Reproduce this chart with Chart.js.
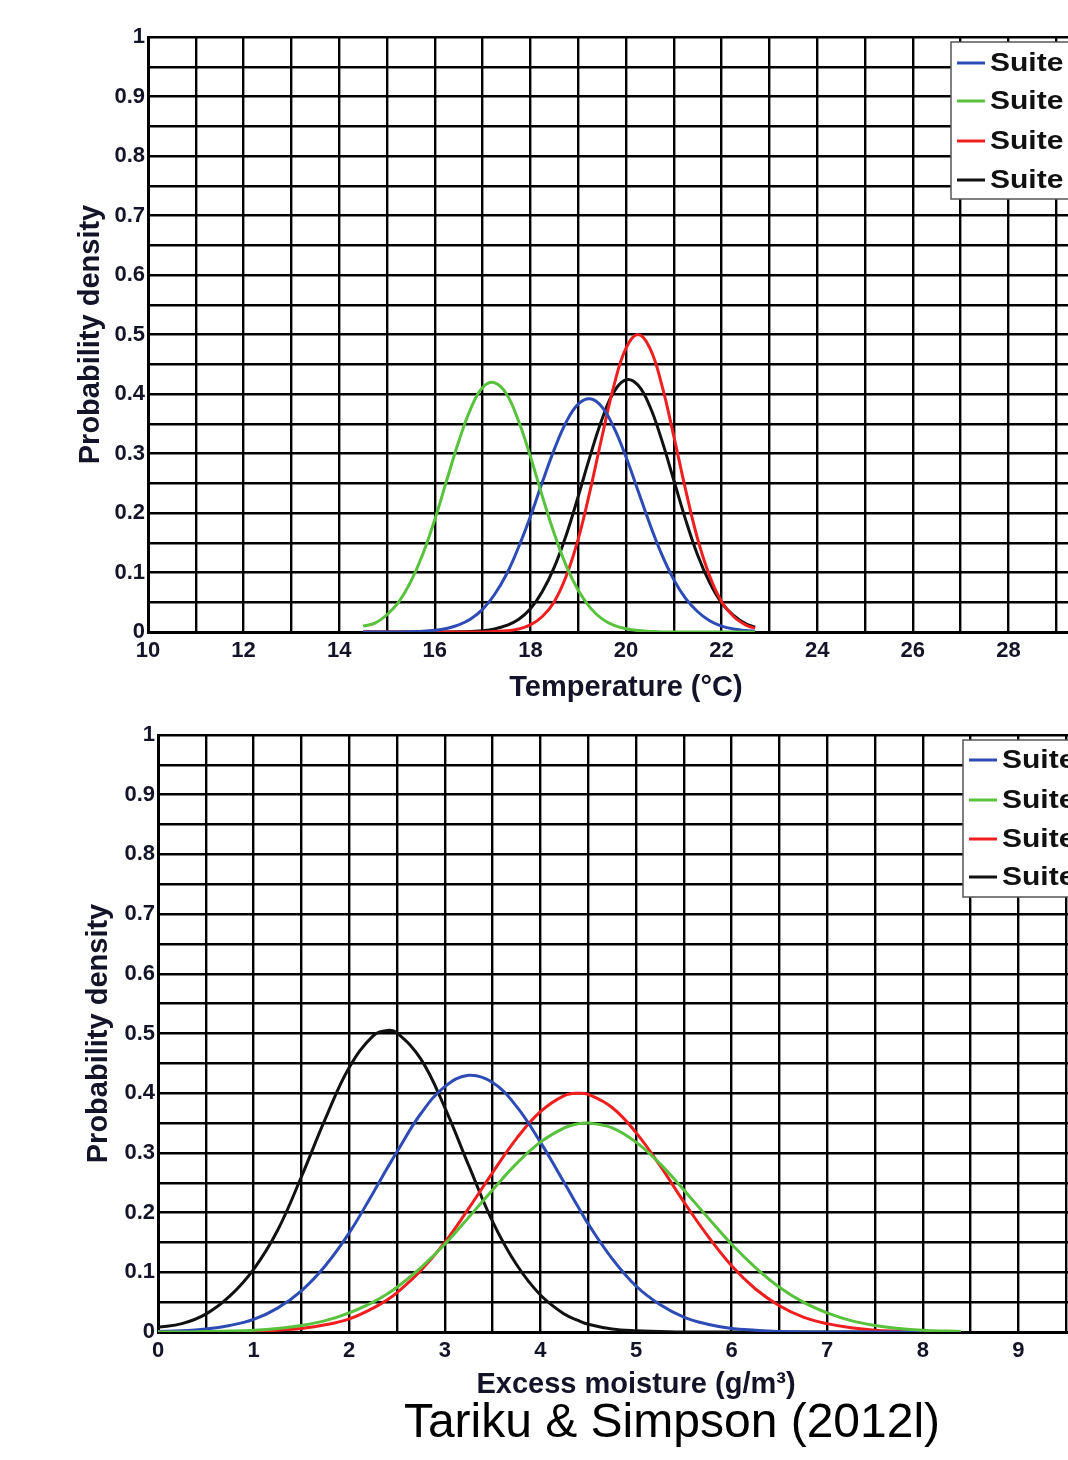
<!DOCTYPE html>
<html>
<head>
<meta charset="utf-8">
<title>Probability density - Tariku & Simpson</title>
<script src="https://cdn.jsdelivr.net/npm/chart.js@4.4.0/dist/chart.umd.min.js"></script>
<style>
  html, body { margin: 0; padding: 0; overflow: hidden; background: #fff; width: 1068px; height: 1460px; }
  canvas { position: absolute; left: 0; }
  #credit {
    position: absolute; left: 0; width: 1344px; top: 1397px;
    text-align: center; color: #000;
    font-family: "Liberation Sans", Arial, sans-serif; font-size: 48px; line-height: 48px;
  }
</style>
</head>
<body>
<canvas id="tempChart" width="1200" height="712" style="top:0"></canvas>
<canvas id="moistChart" width="1200" height="712" style="top:700px"></canvas>
<div id="credit">Tariku &amp; Simpson (2012l)</div>

<script>
// series names (legend)
const suiteNames = ["Suite 1", "Suite 2", "Suite 3", "Suite 4"];

// top panel: temperature (°C)
const tempX = [14.5, 14.75, 15, 15.25, 15.5, 15.75, 16, 16.25, 16.5, 16.75, 17, 17.25, 17.5, 17.75,
  18, 18.25, 18.5, 18.75, 19, 19.25, 19.5, 19.75, 20, 20.25, 20.5, 20.75, 21, 21.25, 21.5, 21.75,
  22, 22.25, 22.5, 22.7];
const tempSuite1 = [0, 0, 0, 0.0002, 0.0006, 0.0013, 0.003, 0.006, 0.012, 0.022, 0.038, 0.063, 0.097, 0.142,
  0.194, 0.252, 0.307, 0.353, 0.383, 0.392, 0.378, 0.343, 0.294, 0.238, 0.181, 0.130, 0.088, 0.056, 0.034, 0.019,
  0.010, 0.005, 0.0025, 0.001];
const tempSuite2 = [0.01, 0.015, 0.029, 0.051, 0.085, 0.131, 0.189, 0.255, 0.320, 0.375, 0.411, 0.419, 0.400, 0.355,
  0.295, 0.228, 0.165, 0.111, 0.070, 0.041, 0.022, 0.011, 0.0055, 0.0024, 0.001, 0, 0, 0, 0, 0,
  0, 0, 0, 0];
const tempSuite3 = [0, 0, 0, 0, 0, 0, 0, 0, 0, 0, 0, 0.001, 0.002, 0.005,
  0.012, 0.026, 0.051, 0.094, 0.156, 0.238, 0.329, 0.415, 0.477, 0.500, 0.477, 0.415, 0.329, 0.238, 0.156, 0.094,
  0.051, 0.026, 0.012, 0.006];
const tempSuite4 = [0, 0, 0, 0, 0, 0, 0, 0, 0.0003, 0.001, 0.002, 0.005, 0.011, 0.021,
  0.039, 0.068, 0.109, 0.163, 0.228, 0.296, 0.358, 0.404, 0.424, 0.415, 0.379, 0.322, 0.255, 0.188, 0.129, 0.083,
  0.049, 0.028, 0.014, 0.008];

// bottom panel: excess moisture (g/m3)
const moistX = [0, 0.25, 0.5, 0.75, 1, 1.25, 1.5, 1.75, 2, 2.25, 2.4, 2.5, 2.75, 3, 3.25, 3.5, 3.75, 4, 4.25, 4.4,
  4.5, 4.75, 5, 5.25, 5.5, 5.75, 6, 6.25, 6.5, 6.75, 7, 7.25, 7.5, 7.75, 8, 8.25, 8.4];
const moistSuite1 = [0.001, 0.002, 0.005, 0.011, 0.021, 0.040, 0.069, 0.111, 0.166, 0.233, 0.275, 0.302, 0.366, 0.411,
  0.430, 0.418, 0.378, 0.318, 0.250, 0.208, 0.181, 0.123, 0.077, 0.046, 0.025, 0.013, 0.006, 0.003, 0.001,
  0, 0, 0, 0, 0, 0, 0, 0];
const moistSuite2 = [0, 0, 0.0007, 0.0015, 0.003, 0.006, 0.011, 0.019, 0.032, 0.050, 0.064, 0.075, 0.108, 0.147,
  0.192, 0.238, 0.282, 0.318, 0.342, 0.349, 0.350, 0.342, 0.318, 0.282, 0.238, 0.192, 0.147, 0.108, 0.075, 0.050,
  0.032, 0.019, 0.011, 0.006, 0.003, 0.0015, 0.001];
const moistSuite3 = [0, 0, 0, 0.0005, 0.001, 0.003, 0.006, 0.012, 0.022, 0.040, 0.054, 0.066, 0.103, 0.150,
  0.207, 0.267, 0.324, 0.369, 0.396, 0.400, 0.398, 0.376, 0.334, 0.279, 0.218, 0.161, 0.111, 0.072, 0.044, 0.025,
  0.014, 0.007, 0.003, 0.0015, 0.0006, 0, 0];
const moistSuite4 = [0.008, 0.014, 0.03, 0.06, 0.105, 0.170, 0.26, 0.357, 0.443, 0.496, 0.505, 0.501, 0.457, 0.376,
  0.279, 0.185, 0.113, 0.062, 0.030, 0.019, 0.013, 0.005, 0.002, 0.001, 0, 0, 0, 0, 0, 0,
  0, 0, 0, 0, 0, 0, 0];

const suiteColors = ["#2d4bb5", "#58c23c", "#f01e1e", "#111111"];
const FONT = "'Liberation Sans', Arial, Helvetica, sans-serif";

// legend box drawn inside the plot, like the matlab one
const boxLegend = {
  id: "boxLegend",
  afterDraw(chart, args, opts) {
    const ctx = chart.ctx;
    ctx.save();
    ctx.fillStyle = "#fff";
    ctx.fillRect(opts.x, opts.y, opts.w, opts.h);
    ctx.strokeStyle = "#555";
    ctx.lineWidth = 1.5;
    ctx.strokeRect(opts.x, opts.y, opts.w, opts.h);
    ctx.font = "bold 25px " + FONT;
    ctx.textBaseline = "middle";
    chart.data.datasets.forEach((ds, i) => {
      const y = opts.rows[i];
      ctx.strokeStyle = ds.borderColor;
      ctx.lineWidth = 3;
      ctx.beginPath();
      ctx.moveTo(opts.x + 6, y);
      ctx.lineTo(opts.x + 34, y);
      ctx.stroke();
      // the original text is a bit wider than Liberation, stretch it
      ctx.save();
      ctx.translate(opts.x + 39, y + 1);
      ctx.scale(1.2, 1);
      ctx.fillStyle = "#111";
      ctx.fillText(ds.label, 0, 0);
      ctx.restore();
    });
    ctx.restore();
  },
};

function makeChart(id, xs, series, cfg) {
  const ctx = document.getElementById(id).getContext("2d");
  const order = [1, 0, 2, 3];
  return new Chart(ctx, {
    type: "line",
    data: {
      datasets: series.map((ys, i) => ({
        label: suiteNames[i],
        data: xs.map((x, j) => ({ x: x, y: ys[j] })),
        borderColor: suiteColors[i],
        borderWidth: 3,
        pointRadius: 0,
        fill: false,
        tension: 0.4,
        order: order[i],
      })),
    },
    options: {
      responsive: false,
      animation: false,
      layout: { padding: cfg.padding },
      plugins: {
        legend: { display: false },
        tooltip: { enabled: false },
        boxLegend: cfg.legend,
      },
      scales: {
        x: {
          type: "linear",
          min: cfg.xMin,
          max: cfg.xMax,
          afterFit: (scale) => { scale.height = 80; },
          grid: { color: "#000", lineWidth: 2.4, drawTicks: false },
          border: { color: "#000", width: 3 },
          ticks: {
            stepSize: cfg.xStep,
            autoSkip: false,
            maxRotation: 0,
            padding: 6,
            color: "#141428",
            font: { family: FONT, size: 22, weight: "bold" },
            callback: cfg.xLabel,
          },
          title: {
            display: true,
            text: cfg.xTitle,
            color: "#141428",
            padding: { top: 0, bottom: cfg.titlePad },
            font: { family: FONT, size: 29, weight: "bold" },
          },
        },
        y: {
          min: 0,
          max: 1,
          afterFit: (scale) => { scale.width = cfg.yWidth; },
          grid: { color: "#000", lineWidth: 2.4, drawTicks: false },
          border: { color: "#000", width: 3 },
          ticks: {
            stepSize: 0.05,
            autoSkip: false,
            maxTicksLimit: 100,
            padding: 3,
            color: "#141428",
            font: { family: FONT, size: 22, weight: "bold" },
            callback: (v) => (Math.round(v * 100) % 10 === 0 ? String(Math.round(v * 10) / 10) : ""),
          },
          title: {
            display: true,
            text: "Probability density",
            color: "#141428",
            padding: 0,
            font: { family: FONT, size: 29, weight: "bold" },
          },
        },
      },
    },
    plugins: [boxLegend],
  });
}

makeChart("tempChart", tempX, [tempSuite1, tempSuite2, tempSuite3, tempSuite4], {
  xMin: 10, xMax: 30, xStep: 1,
  xLabel: (v) => (v % 2 === 0 ? String(v) : ""),
  xTitle: "Temperature (°C)",
  titlePad: 7,
  yWidth: 74,
  padding: { top: 37, left: 74, right: 96, bottom: 0 },
  legend: { x: 951, y: 42, w: 300, h: 157, rows: [63, 101, 141, 180] },
});

makeChart("moistChart", moistX, [moistSuite1, moistSuite2, moistSuite3, moistSuite4], {
  xMin: 0, xMax: 10, xStep: 0.5,
  xLabel: (v) => (Number.isInteger(v) ? String(v) : ""),
  xTitle: "Excess moisture (g/m³)",
  titlePad: 10,
  yWidth: 76,
  padding: { top: 35, left: 82, right: 86, bottom: 0 },
  legend: { x: 963, y: 40, w: 300, h: 157, rows: [60, 100, 139, 177] },
});
</script>
</body>
</html>
